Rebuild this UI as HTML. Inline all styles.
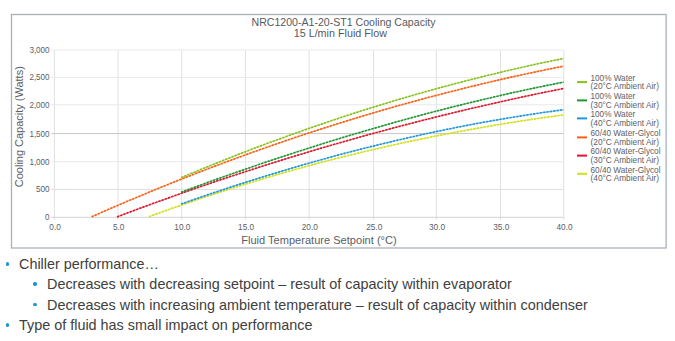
<!DOCTYPE html>
<html><head><meta charset="utf-8"><style>
html,body{margin:0;padding:0;background:#fff;width:675px;height:341px;overflow:hidden}
svg{position:absolute;left:0;top:0}
text{font-family:"Liberation Sans",sans-serif}
.g{stroke:#e0e0e0;stroke-width:1}
.c{fill:none;stroke-width:1.65;stroke-dasharray:2.2 1.2}
.cu{fill:none;stroke-width:1;opacity:.65}
.xl{font-size:8.3px;fill:#5a6068;text-anchor:middle}
.yl{font-size:8.3px;fill:#5a6068;text-anchor:end}
.lg{font-size:8.4px;fill:#5e5e66}
.t{font-size:10.2px;fill:#555a60}
.at{font-size:10.5px;fill:#5a5e66}
.bul{position:absolute;left:0;top:0;font-family:"Liberation Sans",sans-serif;font-size:14.4px;color:#404040}
.ln{position:absolute;white-space:nowrap;line-height:1}
.dot{position:absolute;width:3.6px;height:3.6px;border-radius:50%;background:#1a96d8}
</style></head><body>
<svg width="675" height="341" viewBox="0 0 675 341">
<rect x="11.5" y="14.5" width="654.6" height="233.5" fill="#fff" stroke="#a9b0bb" stroke-width="1.3"/>
<line x1="54.4" y1="50.1" x2="54.4" y2="219.8" class="g"/>
<text x="55.1" y="230.3" class="xl" textLength="11.5" lengthAdjust="spacingAndGlyphs">0.0</text>
<line x1="118.0" y1="50.1" x2="118.0" y2="219.8" class="g"/>
<text x="118.7" y="230.3" class="xl" textLength="11.5" lengthAdjust="spacingAndGlyphs">5.0</text>
<line x1="181.7" y1="50.1" x2="181.7" y2="219.8" class="g"/>
<text x="182.4" y="230.3" class="xl" textLength="16.1" lengthAdjust="spacingAndGlyphs">10.0</text>
<line x1="245.4" y1="50.1" x2="245.4" y2="219.8" class="g"/>
<text x="246.1" y="230.3" class="xl" textLength="16.1" lengthAdjust="spacingAndGlyphs">15.0</text>
<line x1="309.1" y1="50.1" x2="309.1" y2="219.8" class="g"/>
<text x="309.8" y="230.3" class="xl" textLength="16.1" lengthAdjust="spacingAndGlyphs">20.0</text>
<line x1="373.5" y1="50.1" x2="373.5" y2="219.8" class="g"/>
<text x="374.2" y="230.3" class="xl" textLength="16.1" lengthAdjust="spacingAndGlyphs">25.0</text>
<line x1="436.3" y1="50.1" x2="436.3" y2="219.8" class="g"/>
<text x="437.0" y="230.3" class="xl" textLength="16.1" lengthAdjust="spacingAndGlyphs">30.0</text>
<line x1="500.5" y1="50.1" x2="500.5" y2="219.8" class="g"/>
<text x="501.2" y="230.3" class="xl" textLength="16.1" lengthAdjust="spacingAndGlyphs">35.0</text>
<line x1="563.8" y1="50.1" x2="563.8" y2="219.8" class="g"/>
<text x="564.5" y="230.3" class="xl" textLength="16.1" lengthAdjust="spacingAndGlyphs">40.0</text>
<line x1="51.4" y1="217.3" x2="563.8" y2="217.3" stroke="#d2d2d2" stroke-width="1"/>
<text x="49.6" y="220.2" class="yl" textLength="4.5" lengthAdjust="spacingAndGlyphs">0</text>
<line x1="51.4" y1="189.4" x2="563.8" y2="189.4" stroke="#dedede" stroke-width="1"/>
<text x="49.6" y="192.3" class="yl" textLength="13.6" lengthAdjust="spacingAndGlyphs">500</text>
<line x1="51.4" y1="161.8" x2="563.8" y2="161.8" stroke="#e9e9e9" stroke-width="1"/>
<text x="49.6" y="164.7" class="yl" textLength="20.2" lengthAdjust="spacingAndGlyphs">1,000</text>
<line x1="51.4" y1="133.6" x2="563.8" y2="133.6" stroke="#c6c6c6" stroke-width="1"/>
<text x="49.6" y="136.5" class="yl" textLength="20.2" lengthAdjust="spacingAndGlyphs">1,500</text>
<line x1="51.4" y1="104.8" x2="563.8" y2="104.8" stroke="#e9e9e9" stroke-width="1"/>
<text x="49.6" y="107.7" class="yl" textLength="20.2" lengthAdjust="spacingAndGlyphs">2,000</text>
<line x1="51.4" y1="77.4" x2="563.8" y2="77.4" stroke="#e9e9e9" stroke-width="1"/>
<text x="49.6" y="80.3" class="yl" textLength="20.2" lengthAdjust="spacingAndGlyphs">2,500</text>
<line x1="51.4" y1="50.1" x2="563.8" y2="50.1" stroke="#e9e9e9" stroke-width="1"/>
<text x="49.6" y="53.0" class="yl" textLength="20.2" lengthAdjust="spacingAndGlyphs">3,000</text>
<path d="M149.0,216.7 L159.6,212.8 L170.3,209.0 L180.9,205.3 L191.5,201.6 L202.1,198.0 L212.8,194.5 L223.4,191.0 L234.0,187.6 L244.7,184.3 L255.3,181.1 L265.9,177.9 L276.5,174.8 L287.2,171.7 L297.8,168.8 L308.4,165.9 L319.1,163.0 L329.7,160.2 L340.3,157.5 L350.9,154.9 L361.6,152.3 L372.2,149.8 L382.8,147.4 L393.4,145.0 L404.1,142.6 L414.7,140.4 L425.3,138.2 L436.0,136.0 L446.6,134.0 L457.2,131.9 L467.8,130.0 L478.5,128.1 L489.1,126.2 L499.7,124.4 L510.4,122.7 L521.0,121.0 L531.6,119.4 L542.2,117.9 L552.9,116.4 L563.5,114.9" stroke="#d2e114" class="cu"/><path d="M149.0,216.7 L159.6,212.8 L170.3,209.0 L180.9,205.3 L191.5,201.6 L202.1,198.0 L212.8,194.5 L223.4,191.0 L234.0,187.6 L244.7,184.3 L255.3,181.1 L265.9,177.9 L276.5,174.8 L287.2,171.7 L297.8,168.8 L308.4,165.9 L319.1,163.0 L329.7,160.2 L340.3,157.5 L350.9,154.9 L361.6,152.3 L372.2,149.8 L382.8,147.4 L393.4,145.0 L404.1,142.6 L414.7,140.4 L425.3,138.2 L436.0,136.0 L446.6,134.0 L457.2,131.9 L467.8,130.0 L478.5,128.1 L489.1,126.2 L499.7,124.4 L510.4,122.7 L521.0,121.0 L531.6,119.4 L542.2,117.9 L552.9,116.4 L563.5,114.9" stroke="#d2e114" class="c"/>
<path d="M181.1,204.0 L190.9,200.6 L200.7,197.2 L210.5,193.8 L220.3,190.6 L230.1,187.3 L239.9,184.1 L249.7,181.0 L259.5,177.9 L269.3,174.9 L279.2,171.9 L289.0,169.0 L298.8,166.1 L308.6,163.3 L318.4,160.5 L328.2,157.8 L338.0,155.1 L347.8,152.5 L357.6,150.0 L367.4,147.5 L377.2,145.1 L387.0,142.7 L396.8,140.4 L406.6,138.1 L416.4,135.9 L426.2,133.7 L436.0,131.6 L445.8,129.6 L455.6,127.6 L465.4,125.7 L475.3,123.8 L485.1,122.0 L494.9,120.3 L504.7,118.6 L514.5,117.0 L524.3,115.4 L534.1,113.9 L543.9,112.4 L553.7,111.1 L563.5,109.7" stroke="#1e96dc" class="cu"/><path d="M181.1,204.0 L190.9,200.6 L200.7,197.2 L210.5,193.8 L220.3,190.6 L230.1,187.3 L239.9,184.1 L249.7,181.0 L259.5,177.9 L269.3,174.9 L279.2,171.9 L289.0,169.0 L298.8,166.1 L308.6,163.3 L318.4,160.5 L328.2,157.8 L338.0,155.1 L347.8,152.5 L357.6,150.0 L367.4,147.5 L377.2,145.1 L387.0,142.7 L396.8,140.4 L406.6,138.1 L416.4,135.9 L426.2,133.7 L436.0,131.6 L445.8,129.6 L455.6,127.6 L465.4,125.7 L475.3,123.8 L485.1,122.0 L494.9,120.3 L504.7,118.6 L514.5,117.0 L524.3,115.4 L534.1,113.9 L543.9,112.4 L553.7,111.1 L563.5,109.7" stroke="#1e96dc" class="c"/>
<path d="M117.0,216.9 L128.4,212.6 L139.9,208.3 L151.3,204.1 L162.8,200.0 L174.2,195.9 L185.7,191.8 L197.1,187.8 L208.6,183.9 L220.0,180.0 L231.5,176.2 L242.9,172.5 L254.4,168.8 L265.8,165.1 L277.3,161.5 L288.7,157.9 L300.2,154.5 L311.6,151.0 L323.1,147.6 L334.5,144.3 L346.0,141.0 L357.4,137.8 L368.9,134.6 L380.3,131.5 L391.8,128.4 L403.2,125.4 L414.7,122.4 L426.1,119.5 L437.6,116.6 L449.0,113.8 L460.5,111.0 L471.9,108.3 L483.4,105.7 L494.8,103.1 L506.3,100.5 L517.7,98.0 L529.2,95.5 L540.6,93.1 L552.1,90.8 L563.5,88.5" stroke="#e0142c" class="cu"/><path d="M117.0,216.9 L128.4,212.6 L139.9,208.3 L151.3,204.1 L162.8,200.0 L174.2,195.9 L185.7,191.8 L197.1,187.8 L208.6,183.9 L220.0,180.0 L231.5,176.2 L242.9,172.5 L254.4,168.8 L265.8,165.1 L277.3,161.5 L288.7,157.9 L300.2,154.5 L311.6,151.0 L323.1,147.6 L334.5,144.3 L346.0,141.0 L357.4,137.8 L368.9,134.6 L380.3,131.5 L391.8,128.4 L403.2,125.4 L414.7,122.4 L426.1,119.5 L437.6,116.6 L449.0,113.8 L460.5,111.0 L471.9,108.3 L483.4,105.7 L494.8,103.1 L506.3,100.5 L517.7,98.0 L529.2,95.5 L540.6,93.1 L552.1,90.8 L563.5,88.5" stroke="#e0142c" class="c"/>
<path d="M181.1,192.2 L190.9,188.6 L200.7,185.0 L210.5,181.4 L220.3,177.9 L230.1,174.5 L239.9,171.1 L249.7,167.7 L259.5,164.3 L269.3,161.0 L279.2,157.7 L289.0,154.5 L298.8,151.3 L308.6,148.2 L318.4,145.1 L328.2,142.0 L338.0,139.0 L347.8,136.0 L357.6,133.1 L367.4,130.2 L377.2,127.4 L387.0,124.6 L396.8,121.8 L406.6,119.1 L416.4,116.4 L426.2,113.8 L436.0,111.2 L445.8,108.7 L455.6,106.2 L465.4,103.8 L475.3,101.4 L485.1,99.1 L494.9,96.8 L504.7,94.5 L514.5,92.3 L524.3,90.2 L534.1,88.1 L543.9,86.1 L553.7,84.1 L563.5,82.1" stroke="#1f9632" class="cu"/><path d="M181.1,192.2 L190.9,188.6 L200.7,185.0 L210.5,181.4 L220.3,177.9 L230.1,174.5 L239.9,171.1 L249.7,167.7 L259.5,164.3 L269.3,161.0 L279.2,157.7 L289.0,154.5 L298.8,151.3 L308.6,148.2 L318.4,145.1 L328.2,142.0 L338.0,139.0 L347.8,136.0 L357.6,133.1 L367.4,130.2 L377.2,127.4 L387.0,124.6 L396.8,121.8 L406.6,119.1 L416.4,116.4 L426.2,113.8 L436.0,111.2 L445.8,108.7 L455.6,106.2 L465.4,103.8 L475.3,101.4 L485.1,99.1 L494.9,96.8 L504.7,94.5 L514.5,92.3 L524.3,90.2 L534.1,88.1 L543.9,86.1 L553.7,84.1 L563.5,82.1" stroke="#1f9632" class="c"/>
<path d="M91.6,216.8 L103.7,211.5 L115.8,206.2 L127.9,201.0 L140.0,196.0 L152.1,190.9 L164.2,186.0 L176.3,181.1 L188.4,176.4 L200.5,171.7 L212.6,167.0 L224.7,162.5 L236.8,158.0 L248.9,153.6 L261.0,149.3 L273.1,145.1 L285.2,140.9 L297.3,136.8 L309.4,132.8 L321.5,128.9 L333.6,125.0 L345.7,121.2 L357.8,117.5 L369.9,113.9 L382.0,110.4 L394.1,106.9 L406.2,103.5 L418.3,100.2 L430.4,96.9 L442.5,93.8 L454.6,90.7 L466.7,87.6 L478.8,84.7 L490.9,81.8 L503.0,79.0 L515.1,76.3 L527.2,73.7 L539.3,71.1 L551.4,68.6 L563.5,66.2" stroke="#ff5f14" class="cu"/><path d="M91.6,216.8 L103.7,211.5 L115.8,206.2 L127.9,201.0 L140.0,196.0 L152.1,190.9 L164.2,186.0 L176.3,181.1 L188.4,176.4 L200.5,171.7 L212.6,167.0 L224.7,162.5 L236.8,158.0 L248.9,153.6 L261.0,149.3 L273.1,145.1 L285.2,140.9 L297.3,136.8 L309.4,132.8 L321.5,128.9 L333.6,125.0 L345.7,121.2 L357.8,117.5 L369.9,113.9 L382.0,110.4 L394.1,106.9 L406.2,103.5 L418.3,100.2 L430.4,96.9 L442.5,93.8 L454.6,90.7 L466.7,87.6 L478.8,84.7 L490.9,81.8 L503.0,79.0 L515.1,76.3 L527.2,73.7 L539.3,71.1 L551.4,68.6 L563.5,66.2" stroke="#ff5f14" class="c"/>
<path d="M181.1,177.7 L190.9,173.6 L200.7,169.6 L210.5,165.5 L220.3,161.6 L230.1,157.7 L239.9,153.8 L249.7,150.1 L259.5,146.3 L269.3,142.7 L279.2,139.1 L289.0,135.5 L298.8,132.0 L308.6,128.5 L318.4,125.2 L328.2,121.8 L338.0,118.5 L347.8,115.3 L357.6,112.1 L367.4,109.0 L377.2,106.0 L387.0,103.0 L396.8,100.0 L406.6,97.2 L416.4,94.3 L426.2,91.5 L436.0,88.8 L445.8,86.2 L455.6,83.5 L465.4,81.0 L475.3,78.5 L485.1,76.0 L494.9,73.7 L504.7,71.3 L514.5,69.0 L524.3,66.8 L534.1,64.6 L543.9,62.5 L553.7,60.5 L563.5,58.5" stroke="#86c21c" class="cu"/><path d="M181.1,177.7 L190.9,173.6 L200.7,169.6 L210.5,165.5 L220.3,161.6 L230.1,157.7 L239.9,153.8 L249.7,150.1 L259.5,146.3 L269.3,142.7 L279.2,139.1 L289.0,135.5 L298.8,132.0 L308.6,128.5 L318.4,125.2 L328.2,121.8 L338.0,118.5 L347.8,115.3 L357.6,112.1 L367.4,109.0 L377.2,106.0 L387.0,103.0 L396.8,100.0 L406.6,97.2 L416.4,94.3 L426.2,91.5 L436.0,88.8 L445.8,86.2 L455.6,83.5 L465.4,81.0 L475.3,78.5 L485.1,76.0 L494.9,73.7 L504.7,71.3 L514.5,69.0 L524.3,66.8 L534.1,64.6 L543.9,62.5 L553.7,60.5 L563.5,58.5" stroke="#86c21c" class="c"/>
<rect x="577" y="81.1" width="10" height="2" fill="#86c21c"/>
<text x="590.5" y="80.8" class="lg" textLength="44.7" lengthAdjust="spacingAndGlyphs">100% Water</text>
<text x="590.5" y="89.3" class="lg" textLength="68.4" lengthAdjust="spacingAndGlyphs">(20°C Ambient Air)</text>
<rect x="577" y="99.4" width="10" height="2" fill="#1f9632"/>
<text x="590.5" y="99.1" class="lg" textLength="44.7" lengthAdjust="spacingAndGlyphs">100% Water</text>
<text x="590.5" y="107.6" class="lg" textLength="68.4" lengthAdjust="spacingAndGlyphs">(30°C Ambient Air)</text>
<rect x="577" y="117.4" width="10" height="2" fill="#1e96dc"/>
<text x="590.5" y="117.1" class="lg" textLength="44.7" lengthAdjust="spacingAndGlyphs">100% Water</text>
<text x="590.5" y="125.6" class="lg" textLength="68.4" lengthAdjust="spacingAndGlyphs">(40°C Ambient Air)</text>
<rect x="577" y="136.4" width="10" height="2" fill="#ff5f14"/>
<text x="590.5" y="136.1" class="lg" textLength="70" lengthAdjust="spacingAndGlyphs">60/40 Water-Glycol</text>
<text x="590.5" y="144.6" class="lg" textLength="68.4" lengthAdjust="spacingAndGlyphs">(20°C Ambient Air)</text>
<rect x="577" y="154.6" width="10" height="2" fill="#e0142c"/>
<text x="590.5" y="154.3" class="lg" textLength="70" lengthAdjust="spacingAndGlyphs">60/40 Water-Glycol</text>
<text x="590.5" y="162.8" class="lg" textLength="68.4" lengthAdjust="spacingAndGlyphs">(30°C Ambient Air)</text>
<rect x="577" y="172.8" width="10" height="2" fill="#d2e114"/>
<text x="590.5" y="172.5" class="lg" textLength="70" lengthAdjust="spacingAndGlyphs">60/40 Water-Glycol</text>
<text x="590.5" y="181.0" class="lg" textLength="68.4" lengthAdjust="spacingAndGlyphs">(40°C Ambient Air)</text>
<text x="251.5" y="26.1" class="t" textLength="184" lengthAdjust="spacingAndGlyphs">NRC1200-A1-20-ST1 Cooling Capacity</text>
<text x="293.7" y="36.9" class="t" textLength="93.3" lengthAdjust="spacingAndGlyphs">15 L/min Fluid Flow</text>
<text x="241.2" y="244.4" class="at" textLength="155.5" lengthAdjust="spacingAndGlyphs">Fluid Temperature Setpoint (°C)</text>
<text transform="translate(22.9,187.2) rotate(-90)" class="at" textLength="121" lengthAdjust="spacingAndGlyphs">Cooling Capacity (Watts)</text>
</svg>
<div class="bul">
<div class="dot" style="left:5.5px;top:262.2px"></div>
<div class="ln" style="left:19px;top:257px">Chiller performance…</div>
<div class="dot" style="left:33.3px;top:282.2px"></div>
<div class="ln" style="left:47px;top:277px">Decreases with decreasing setpoint – result of capacity within evaporator</div>
<div class="dot" style="left:33.3px;top:302.7px"></div>
<div class="ln" style="left:47px;top:297.5px">Decreases with increasing ambient temperature – result of capacity within condenser</div>
<div class="dot" style="left:5.5px;top:323.2px"></div>
<div class="ln" style="left:19px;top:318px">Type of fluid has small impact on performance</div>
</div>
</body></html>
